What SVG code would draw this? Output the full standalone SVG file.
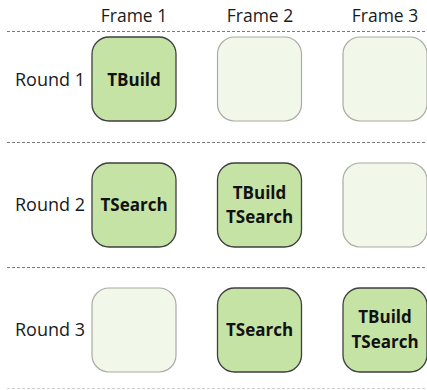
<svg xmlns="http://www.w3.org/2000/svg" width="427" height="390" viewBox="0 0 427 390">
  <style>
    .hdr { font-family: "Open Sans", "Liberation Sans", Arial, sans-serif; font-size: 17.5px; fill: #1a1a1a; text-anchor: middle; }
    .row { font-family: "Open Sans", "Liberation Sans", Arial, sans-serif; font-size: 18px; fill: #1a1a1a; }
    .lbl { font-family: "Open Sans", "Liberation Sans", Arial, sans-serif; font-size: 17px; font-weight: bold; fill: #111; text-anchor: middle; }
    .sep { stroke: #7a7a7a; stroke-width: 1.2; stroke-dasharray: 3 2; fill: none; }
    .sep.last { stroke: #cfcfcf; }
    .busy { fill: #c6e3a6; stroke: #3f3f3f; stroke-width: 1.3; }
    .idle { fill: #f1f8ea; stroke: #a9aba4; stroke-width: 1.2; }
  </style>

  <!-- column headers -->
  <text class="hdr" x="134" y="22">Frame 1</text>
  <text class="hdr" x="260" y="22">Frame 2</text>
  <text class="hdr" x="385" y="22">Frame 3</text>

  <!-- row separators -->
  <g id="separators">
    <line class="sep" x1="7" y1="31.5" x2="427" y2="31.5"/>
    <line class="sep" x1="7" y1="142.5" x2="427" y2="142.5"/>
    <line class="sep" x1="7" y1="267.5" x2="427" y2="267.5"/>
    <line class="sep last" x1="7" y1="388.5" x2="427" y2="388.5"/>
  </g>

  <!-- row labels -->
  <text class="row" x="15" y="86">Round 1</text>
  <text class="row" x="15" y="211">Round 2</text>
  <text class="row" x="15" y="336">Round 3</text>

  <!-- Round 1 -->
  <g id="r1f1">
    <rect class="busy" x="92" y="37" width="84" height="84" rx="17"/>
    <text class="lbl" x="134" y="86">TBuild</text>
  </g>
  <g id="r1f2"><rect class="idle" x="217.5" y="37" width="84" height="84" rx="17"/></g>
  <g id="r1f3"><rect class="idle" x="343" y="37" width="84" height="84" rx="17"/></g>

  <!-- Round 2 -->
  <g id="r2f1">
    <rect class="busy" x="92" y="163" width="84" height="84" rx="17"/>
    <text class="lbl" x="134" y="211">TSearch</text>
  </g>
  <g id="r2f2">
    <rect class="busy" x="217.5" y="163" width="84" height="84" rx="17"/>
    <text class="lbl" x="259.5" y="199">TBuild</text>
    <text class="lbl" x="259.5" y="223">TSearch</text>
  </g>
  <g id="r2f3"><rect class="idle" x="343" y="163" width="84" height="84" rx="17"/></g>

  <!-- Round 3 -->
  <g id="r3f1"><rect class="idle" x="92" y="288" width="84" height="84" rx="17"/></g>
  <g id="r3f2">
    <rect class="busy" x="217.5" y="288" width="84" height="84" rx="17"/>
    <text class="lbl" x="259.5" y="336">TSearch</text>
  </g>
  <g id="r3f3">
    <rect class="busy" x="343" y="288" width="84" height="84" rx="17"/>
    <text class="lbl" x="385" y="323">TBuild</text>
    <text class="lbl" x="385" y="348">TSearch</text>
  </g>

  <!-- connectors: none drawn -->
  <g id="connectors"/>
</svg>
